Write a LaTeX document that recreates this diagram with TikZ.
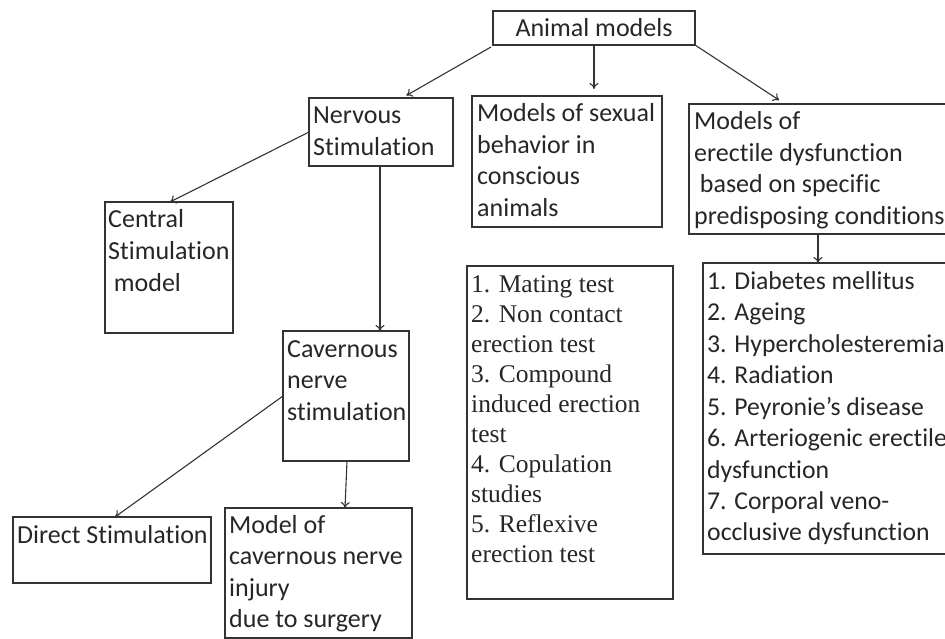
\documentclass[tikz,border=0pt]{standalone}
\usepackage{fontspec}
\setmainfont{Carlito}[Ligatures={NoCommon}]
\newfontfamily\tnr{Liberation Serif}
\usetikzlibrary{arrows.meta,calc}
\newcommand\mylines[1]{\begin{tabular}[t]{@{}l@{}}#1\end{tabular}}
\begin{document}
\begin{tikzpicture}[x=1pt,y=-1pt,
  box/.style={draw=black!80, line width=1.2pt, anchor=north west, inner sep=0pt, outer sep=0pt},
  txt/.style={anchor=base west, inner sep=0pt, text=black!85, font=\fontsize{26}{31.5}\selectfont},
  rtxt/.style={txt, font=\fontsize{25.7}{31.5}\selectfont},
  stxt/.style={anchor=base west, inner sep=0pt, text=black!85, font=\tnr\fontsize{25.5}{30}\selectfont},
  arr/.style={draw=black!80, line width=1.1pt, -{To[length=6pt,width=9pt]}}]
\useasboundingbox (0,0) rectangle (945,639);
% boxes
\node[box, minimum width=202pt, minimum height=34pt, text=black!85, font=\fontsize{26}{31.5}\selectfont] (am) at (493,11) {Animal models};
\node[box, minimum width=144pt, minimum height=68pt] (ns) at (309,98) {};
\node[box, minimum width=190pt, minimum height=131pt] (sb) at (472,96) {};
\node[box, minimum width=270pt, minimum height=130pt] (ed) at (689,104) {};
\node[box, minimum width=128pt, minimum height=131pt] (cs) at (105,202) {};
\node[box, minimum width=126pt, minimum height=130pt] (cn) at (283,331) {};
\node[box, minimum width=206pt, minimum height=333pt] (sl) at (467,266) {};
\node[box, minimum width=260pt, minimum height=291pt] (rl) at (703,263) {};
\node[box, minimum width=198pt, minimum height=66pt] (ds) at (13,517) {};
\node[box, minimum width=187pt, minimum height=130pt] (mi) at (225,508) {};
% texts
\node[txt] (ns-t) at ($(ns.north west)+(4,26)$) {\mylines{Nervous\\Stimulation}};
\node[txt] (sb-t) at ($(sb.north west)+(5,26)$) {\mylines{Models of sexual\\behavior in\\conscious\\animals}};
\node[txt] (ed-t) at ($(ed.north west)+(5,26)$) {\mylines{Models of\\erectile dysfunction\\\hspace*{0.22em}based on specific\\predisposing conditions}};
\node[txt] (cs-t) at ($(cs.north west)+(3,26)$) {\mylines{Central\\Stimulation\\\hspace*{0.22em}model}};
\node[txt] (cn-t) at ($(cn.north west)+(4,26)$) {\mylines{Cavernous\\nerve\\stimulation}};
\node[txt] (ds-t) at ($(ds.north west)+(4,26)$) {Direct Stimulation};
\node[txt] (mi-t) at ($(mi.north west)+(4,25)$) {\mylines{Model of\\cavernous nerve\\injury\\due to surgery}};
\node[stxt] (sl-t) at ($(sl.north west)+(4,26)$) {\mylines{1. Mating test\\2. Non contact\\erection test\\3. Compound\\induced erection\\test\\4. Copulation\\studies\\5. Reflexive\\erection test}};
\node[rtxt] (rl-t) at ($(rl.north west)+(4,26)$) {\mylines{1. Diabetes mellitus\\2. Ageing\\3. Hypercholesteremia\\4. Radiation\\5. Peyronie’s disease\\6. Arteriogenic erectile\\dysfunction\\7. Corporal veno-\\occlusive dysfunction}};
% connectors
\draw[arr, shorten >=5pt] ($(am.south west)+(-2,2)$) -- ($(ns.north west)+(93,0)$);
\draw[arr, shorten >=7pt] (am.south) -- (am.south |- sb.north);
\draw[arr, shorten >=7pt] (am.south east) -- ($(ed.north west)+(96,0)$);
\draw[arr] (ns.west) -- ($(cs.north west)+(65,0)$);
\draw[arr] ($(ns.south west)+(71,0)$) -- ($(cn.north west)+(97,0)$);
\draw[arr] (cn.west) -- ($(ds.north west)+(102,0)$);
\draw[arr] ($(cn.south west)+(64,0)$) -- ($(mi.north west)+(120,0)$);
\draw[arr] ($(ed.south west)+(129,0)$) -- ($(rl.north west)+(115,0)$);
\end{tikzpicture}
\end{document}
